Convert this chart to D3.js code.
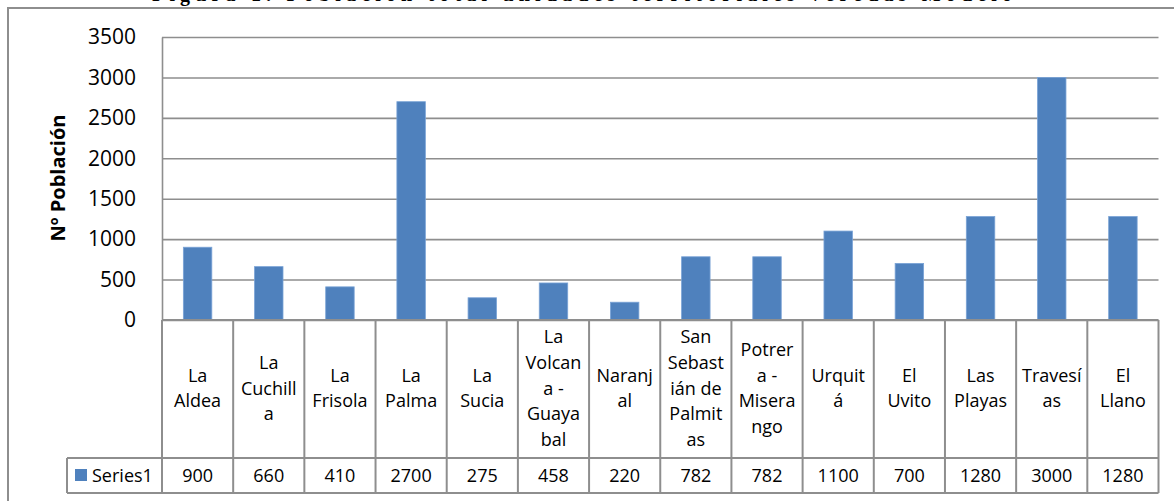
<!DOCTYPE html>
<html>
<head>
<meta charset="utf-8">
<script src="https://cdn.jsdelivr.net/npm/d3@7"></script>
<style>
  body { margin: 0; background: #fff; }
  svg { display: block; }
</style>
</head>
<body>
<svg id="chart" width="1174" height="501"></svg>
<script>
// Veredas (rural districts) and their population
const categories = [
  "La Aldea", "La Cuchilla", "La Frisola", "La Palma", "La Sucia",
  "La Volcana - Guayabal", "Naranjal", "San Sebastián de Palmitas",
  "Potrera - Miserango", "Urquitá", "El Uvito", "Las Playas", "Travesías", "El Llano"
];
// Category names as they wrap inside the narrow table cells
const categoryLines = [
  ["La", "Aldea"], ["La", "Cuchill", "a"], ["La", "Frisola"], ["La", "Palma"], ["La", "Sucia"],
  ["La", "Volcan", "a -", "Guaya", "bal"], ["Naranj", "al"], ["San", "Sebast", "ián de", "Palmit", "as"],
  ["Potrer", "a -", "Misera", "ngo"], ["Urquit", "á"], ["El", "Uvito"], ["Las", "Playas"],
  ["Travesí", "as"], ["El", "Llano"]
];
const series1 = [900, 660, 410, 2700, 275, 458, 220, 782, 782, 1100, 700, 1280, 3000, 1280];
const seriesName = "Series1";
const yTicks = [0, 500, 1000, 1500, 2000, 2500, 3000, 3500];
const yTitle = "Nº Población";
const captionText = "Figura 1. Población total unidades territoriales veredas Modelo";

const svg = d3.select("#chart");
const font = "'Open Sans', 'Liberation Sans', sans-serif";
const gridColor = "#8e8e8e";
const barColor = "#4f81bd";

const plot = { left: 162, right: 1158.5, top: 37, bottom: 320 };
const table = { catBottom: 458, valBottom: 493, legendLeft: 67 };

const x = d3.scaleBand().domain(categories).range([plot.left, plot.right]);
const y = d3.scaleLinear().domain([0, 3500]).range([plot.bottom, plot.top]);

// Caption above the chart frame; the page edge trims its upper part
svg.append("text")
  .attr("x", 152).attr("y", 0.5)
  .attr("textLength", 860).attr("lengthAdjust", "spacing")
  .style("font-family", "'Liberation Serif', serif")
  .style("font-weight", "bold").style("font-size", "20px")
  .text(captionText);

// Chart frame
svg.append("rect")
  .attr("x", 8).attr("y", 8).attr("width", 1180).attr("height", 510)
  .attr("fill", "none").attr("stroke", gridColor).attr("stroke-width", 2);

// Horizontal gridlines
svg.append("g")
  .attr("transform", `translate(${plot.left},0)`)
  .call(d3.axisLeft(y).tickValues(yTicks).tickSize(-(plot.right - plot.left)).tickFormat(""))
  .call(g => g.select(".domain").remove())
  .call(g => g.selectAll(".tick line").attr("stroke", gridColor).attr("stroke-width", 1.6));

// Y axis labels
svg.append("g")
  .attr("transform", `translate(${plot.left},0)`)
  .call(d3.axisLeft(y).tickValues(yTicks).tickSize(0).tickPadding(26).tickFormat(d3.format("d")))
  .call(g => g.select(".domain").attr("stroke", gridColor).attr("stroke-width", 1.6))
  .call(g => g.selectAll(".tick text")
    .style("font-family", font).style("font-size", "21px").attr("fill", "#000"));

// Y axis title
svg.append("text")
  .attr("transform", "translate(65,178) rotate(-90)")
  .attr("text-anchor", "middle")
  .style("font-family", font).style("font-weight", "bold").style("font-size", "20px")
  .text(yTitle);

// Bars
const barW = x.bandwidth() * 0.4;
svg.append("g").selectAll("rect")
  .data(series1)
  .join("rect")
  .attr("x", (d, i) => x(categories[i]) + (x.bandwidth() - barW) / 2)
  .attr("y", d => y(d))
  .attr("width", barW)
  .attr("height", d => y(0) - y(d))
  .attr("fill", barColor)
  .attr("stroke", "#7aa3d6").attr("stroke-width", 0.8);

// Data table grid
const tg = svg.append("g").attr("stroke", gridColor).attr("stroke-width", 2).attr("fill", "none");
tg.append("line").attr("x1", plot.left).attr("x2", plot.right).attr("y1", plot.bottom).attr("y2", plot.bottom);
tg.append("line").attr("x1", table.legendLeft).attr("x2", plot.right).attr("y1", table.catBottom).attr("y2", table.catBottom);
tg.append("line").attr("x1", table.legendLeft).attr("x2", plot.right).attr("y1", table.valBottom).attr("y2", table.valBottom);
tg.append("line").attr("x1", table.legendLeft).attr("x2", table.legendLeft).attr("y1", table.catBottom).attr("y2", table.valBottom);
const edges = categories.map(c => x(c)).concat([plot.right]);
tg.selectAll("line.v").data(edges).join("line").attr("class", "v")
  .attr("x1", d => d).attr("x2", d => d)
  .attr("y1", plot.bottom).attr("y2", table.valBottom);

// Category names
const lineH = 25.7;
const catMid = 394.5;
const catG = svg.append("g")
  .style("font-family", font).style("font-size", "18px").attr("text-anchor", "middle");
categoryLines.forEach((lines, i) => {
  const cx = x(categories[i]) + x.bandwidth() / 2;
  lines.forEach((t, j) => {
    catG.append("text")
      .attr("x", cx)
      .attr("y", catMid + (j - (lines.length - 1) / 2) * lineH)
      .text(t);
  });
});

// Values row
svg.append("g")
  .style("font-family", font).style("font-size", "18px").attr("text-anchor", "middle")
  .selectAll("text").data(series1).join("text")
  .attr("x", (d, i) => x(categories[i]) + x.bandwidth() / 2)
  .attr("y", 482)
  .text(d => d);

// Legend key in the table
svg.append("rect").attr("x", 75).attr("y", 469).attr("width", 12).attr("height", 12).attr("fill", barColor);
svg.append("text").attr("x", 92).attr("y", 482)
  .style("font-family", font).style("font-size", "18px")
  .text(seriesName);
</script>
</body>
</html>
